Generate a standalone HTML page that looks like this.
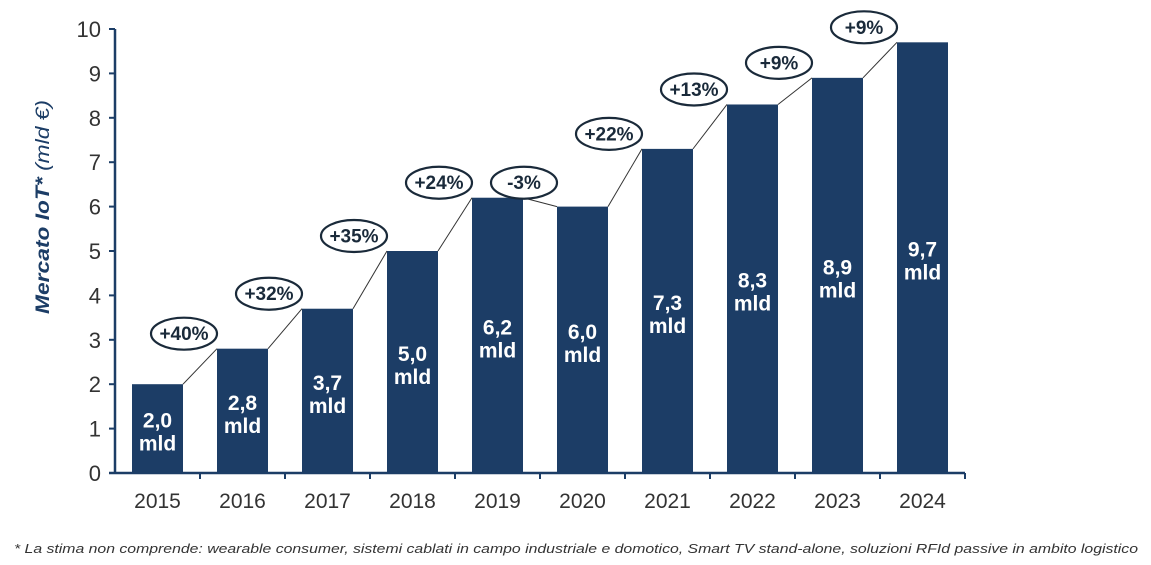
<!DOCTYPE html>
<html><head><meta charset="utf-8"><style>
body{margin:0;background:#fff;width:1151px;height:565px;overflow:hidden}
svg{display:block}
</style></head><body>
<svg width="1151" height="565" font-family="'Liberation Sans', sans-serif">
<g id="axes"></g>
<g id="marks"></g>
<text transform="translate(49,207) rotate(-90)" text-anchor="middle" font-size="19" fill="#1c3d66" textLength="214" lengthAdjust="spacingAndGlyphs"><tspan font-weight="bold" font-style="italic">Mercato IoT*</tspan><tspan font-style="italic" font-weight="normal"> (mld €)</tspan></text>
<text x="14" y="553" font-size="13" font-style="italic" fill="#333" textLength="1124" lengthAdjust="spacingAndGlyphs">* La stima non comprende: wearable consumer, sistemi cablati in campo industriale e domotico, Smart TV stand-alone, soluzioni RFId passive in ambito logistico</text>
</svg>
<script>
const years = ["2015","2016","2017","2018","2019","2020","2021","2022","2023","2024"];
const values = [2.0,2.8,3.7,5.0,6.2,6.0,7.3,8.3,8.9,9.7];
const valueLabels = ["2,0","2,8","3,7","5,0","6,2","6,0","7,3","8,3","8,9","9,7"];
const growthLabels = ["+40%","+32%","+35%","+24%","-3%","+22%","+13%","+9%","+9%"];
const yTicks = [0,1,2,3,4,5,6,7,8,9,10];

const NS="http://www.w3.org/2000/svg";
const x0=115, band=85, barOff=17, barW=51, y0=473, yTop=29;
const yS=v=>y0-(v/10)*(y0-yTop);
const xB=i=>x0+band*i+barOff;
function mk(tag,attrs,parent,txt){const e=document.createElementNS(NS,tag);for(const k in attrs)e.setAttribute(k,attrs[k]);if(txt!==undefined)e.textContent=txt;parent.appendChild(e);return e;}
const axes=document.getElementById('axes'), marks=document.getElementById('marks');
const C="#1c3d66";
let a=mk('line',{x1:x0,y1:yTop,x2:x0,y2:y0+1,stroke:C,'stroke-width':2.5},axes);


a=mk('line',{x1:x0-6,y1:y0,x2:x0+band*years.length,y2:y0,stroke:C,'stroke-width':2.5},axes);


yTicks.forEach(t=>{
  const y=yS(t);
  mk('line',{x1:x0-6,y1:y,x2:x0,y2:y,stroke:C,'stroke-width':2},axes);
  const tx=mk('text',{x:x0-14,y:y+8,'text-anchor':'end','font-size':22,fill:'#333'},axes,String(t));
  
  
});
years.forEach((yr,i)=>{
  const xt=x0+band*(i+1);
  mk('line',{x1:xt,y1:y0,x2:xt,y2:y0+6,stroke:C,'stroke-width':2},axes);
  const tx=mk('text',{x:x0+band*i+band/2,y:y0+35,'text-anchor':'middle','font-size':21,fill:'#333'},axes,yr);
  
  
});
values.forEach((v,i)=>{
  const top=yS(v);
  const r=mk('rect',{x:xB(i),y:top,width:barW,height:y0-top,fill:C},marks);
  
  
  const cy=(top+y0)/2, cx=xB(i)+barW/2;
  const t=mk('text',{x:cx,y:cy-1,'text-anchor':'middle','font-size':21,'font-weight':'bold',fill:'#fff'},marks);
  
  
  mk('tspan',{x:cx},t,valueLabels[i]);
  mk('tspan',{x:cx,dy:23},t,'mld');
});
growthLabels.forEach((g,i)=>{
  const x1=xB(i)+barW, y1=yS(values[i]), x2=xB(i+1), y2=yS(values[i+1]);
  mk('line',{x1:x1,y1:y1,x2:x2,y2:y2,stroke:'#333','stroke-width':1},marks);
  const cy=Math.min(y1,y2)-15, cx=x1+1;
  const grp=mk('g',{},marks);
  
  
  mk('ellipse',{cx:cx,cy:cy,rx:33,ry:16,fill:'#fff',stroke:'#1a2a3a','stroke-width':2.2},grp);
  mk('text',{x:cx,y:cy+6.5,'text-anchor':'middle','font-size':19,'font-weight':'bold',fill:'#1a2a3a'},grp,g);
});
</script>
</body></html>
